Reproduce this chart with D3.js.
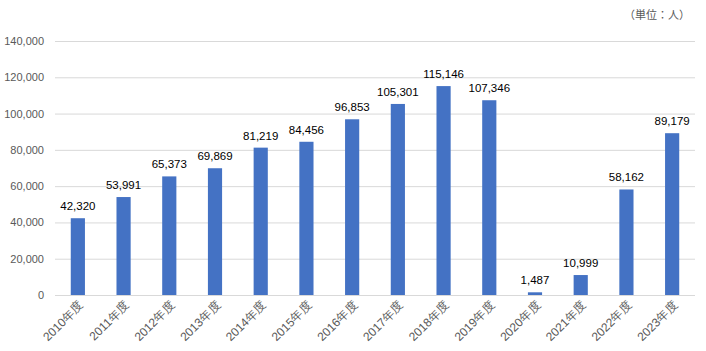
<!DOCTYPE html>
<html><head><meta charset="utf-8">
<script src="https://cdn.jsdelivr.net/npm/d3@7"></script>
<style>body{margin:0;background:#fff;}svg{display:block;font-family:"Liberation Sans","Noto Sans CJK JP",sans-serif;}</style>
</head><body>
<svg id="c" width="706" height="351"></svg>
<script>
const categories = ["2010年度","2011年度","2012年度","2013年度","2014年度","2015年度","2016年度","2017年度","2018年度","2019年度","2020年度","2021年度","2022年度","2023年度"];
const values = [42320,53991,65373,69869,81219,84456,96853,105301,115146,107346,1487,10999,58162,89179];
const yTicks = [0,20000,40000,60000,80000,100000,120000,140000];
const unitLabel = "（単位：人）";

const svg = d3.select("#c");
const x = d3.scaleBand().domain(categories).range([55,695]).paddingInner(0.69).paddingOuter(0.345);
const y = d3.scaleLinear().domain([0,140000]).range([295,41]);
const fmt = d3.format(",");

// gridlines
svg.append("g").selectAll("line").data(yTicks).join("line")
  .attr("x1",55).attr("x2",695).attr("y1",d=>y(d)+0.5).attr("y2",d=>y(d)+0.5)
  .attr("stroke","#d9d9d9").attr("stroke-width",1);

// y axis
const ya = svg.append("g").attr("transform","translate(48,0)")
  .call(d3.axisLeft(y).tickValues(yTicks).tickFormat(fmt).tickSize(0).tickPadding(4));
ya.select(".domain").remove();
ya.selectAll("text").attr("fill","#595959").style("font-size","11px").style("font-family","Liberation Sans, sans-serif");

// bars
svg.append("g").selectAll("rect").data(values).join("rect")
  .attr("x",(d,i)=>x(categories[i])).attr("width",x.bandwidth())
  .attr("y",d=>y(d)).attr("height",d=>y(0)-y(d)).attr("fill","#4472c4");

// data labels
svg.append("g").selectAll("text").data(values).join("text")
  .attr("x",(d,i)=>x(categories[i])+x.bandwidth()/2).attr("y",d=>y(d)-8)
  .attr("text-anchor","middle").attr("fill","#000").style("font-size","11.5px")
  .text(d=>fmt(d));

// x axis
const xa = svg.append("g").attr("transform","translate(0,295)")
  .call(d3.axisBottom(x).tickSize(0).tickPadding(0));
xa.select(".domain").remove();
xa.selectAll("text").attr("fill","#595959").style("font-size","12px")
  .attr("text-anchor","end").attr("dy",null)
  .attr("transform","translate(6,11) rotate(-45)");

// unit label
svg.append("text").attr("x",690).attr("y",19).attr("text-anchor","end")
  .attr("fill","#595959").style("font-size","11px").text(unitLabel);
</script>
</body></html>
